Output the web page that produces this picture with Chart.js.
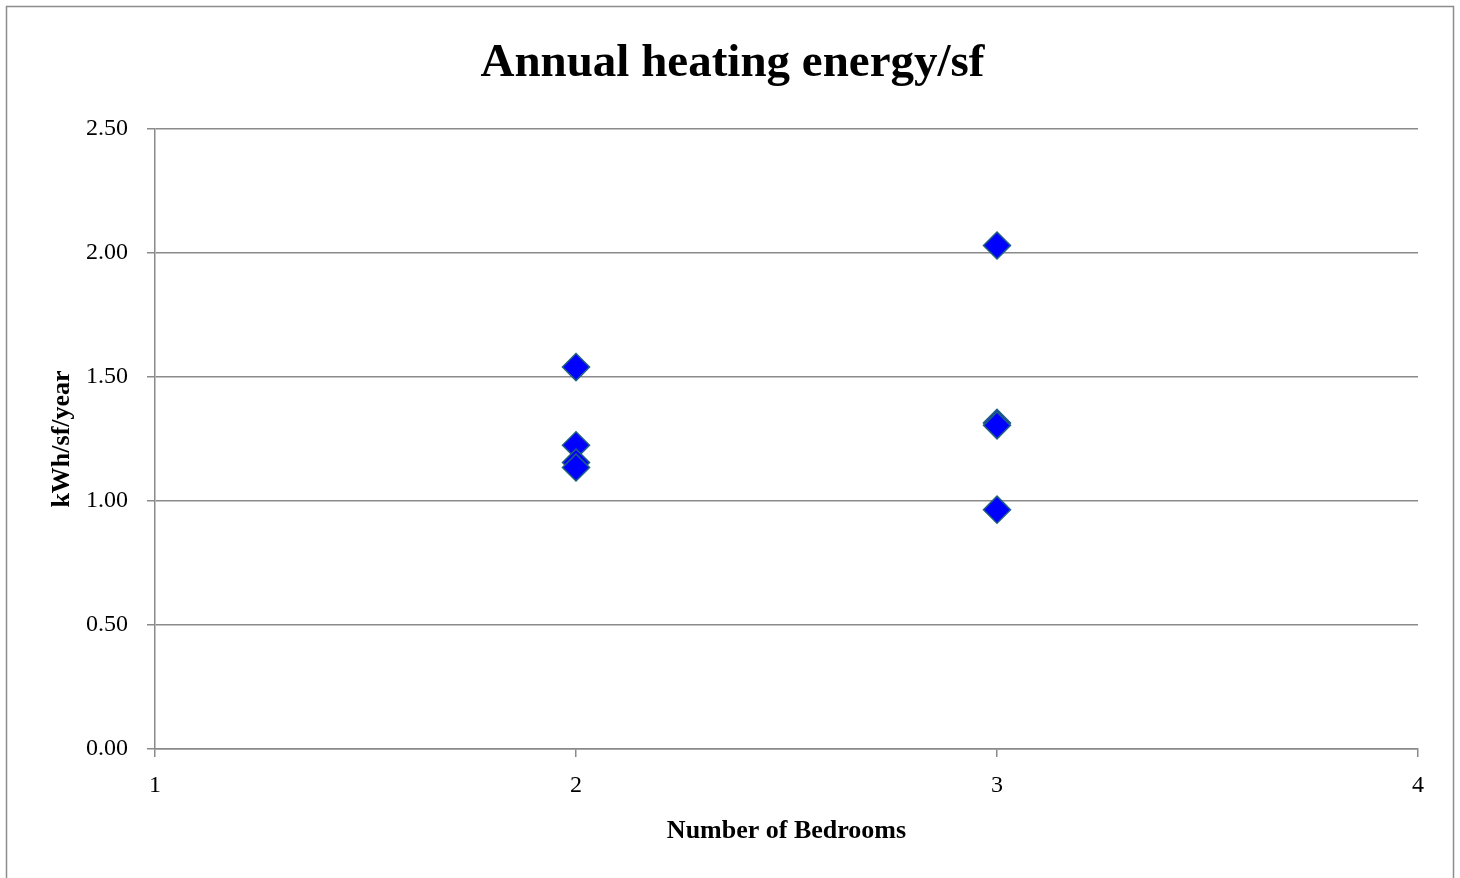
<!DOCTYPE html>
<html>
<head>
<meta charset="utf-8">
<script src="https://cdn.jsdelivr.net/npm/chart.js@4/dist/chart.umd.min.js"></script>
<style>
  html, body { margin: 0; padding: 0; background: #fff; }
  #wrap { position: relative; width: 1460px; height: 878px; }
</style>
</head>
<body>
<div id="wrap"><canvas id="c" width="1460" height="878"></canvas></div>
<script>
// Data
const chartTitle = "Annual heating energy/sf";
const xAxisTitle = "Number of Bedrooms";
const yAxisTitle = "kWh/sf/year";
const bedrooms = [2, 2, 2, 2, 3, 3, 3, 3];
const heatingEnergy = [1.54, 1.225, 1.155, 1.135, 2.03, 1.315, 1.305, 0.965];
const xTicks = [1, 2, 3, 4];
const yTicks = [0, 0.5, 1.0, 1.5, 2.0, 2.5];

const points = bedrooms.map((x, i) => ({ x: x, y: heatingEnergy[i] }));

const frame = {
  id: 'frame',
  afterDraw(chart) {
    const ctx = chart.ctx;
    ctx.save();
    ctx.strokeStyle = '#8c8c8c';
    ctx.lineWidth = 1.5;
    ctx.strokeRect(6.5, 6.5, 1447, 900);
    ctx.restore();
  }
};

Chart.defaults.font.family = "'Liberation Serif', 'Times New Roman', serif";
Chart.defaults.color = '#000';

new Chart(document.getElementById('c'), {
  type: 'scatter',
  data: {
    datasets: [{
      label: 'Heating energy',
      data: points,
      pointStyle: 'rectRot',
      pointRadius: 13.5,
      pointHoverRadius: 13.5,
      backgroundColor: '#0000ff',
      borderColor: '#1f5f80',
      borderWidth: 1.5
    }]
  },
  options: {
    responsive: false,
    animation: false,
    events: [],
    layout: { padding: { left: 47, right: 42, top: 0, bottom: 0 } },
    plugins: {
      legend: { display: false },
      tooltip: { enabled: false },
      title: {
        display: true,
        text: chartTitle,
        color: '#000',
        font: { size: 47, weight: 'bold', family: "'Liberation Serif', serif" },
        padding: { top: 36, bottom: 36.6 }
      }
    },
    scales: {
      x: {
        type: 'linear',
        min: 1, max: 4,
        afterFit: s => { s.height = 129; },
        afterBuildTicks: s => { s.ticks = xTicks.map(v => ({ value: v })); },
        ticks: { font: { size: 24 }, padding: 14, color: '#000' },
        grid: { drawOnChartArea: false, drawTicks: true, tickLength: 8, color: '#8a8a8a', lineWidth: 1.5 },
        border: { display: true, color: '#8a8a8a', width: 1.5 },
        title: {
          display: true, text: xAxisTitle, color: '#000',
          font: { size: 26, weight: 'bold' },
          padding: { top: 0, bottom: 31.4 }
        }
      },
      y: {
        type: 'linear',
        min: 0, max: 2.5,
        afterFit: s => { s.width = 108; },
        afterBuildTicks: s => { s.ticks = yTicks.map(v => ({ value: v })); },
        ticks: { font: { size: 24 }, padding: 19, color: '#000', callback: v => Number(v).toFixed(2) },
        grid: { drawOnChartArea: true, drawTicks: true, tickLength: 8, color: '#8a8a8a', lineWidth: 1.5 },
        border: { display: true, color: '#8a8a8a', width: 1.5 },
        title: {
          display: true, text: yAxisTitle, color: '#000',
          font: { size: 26, weight: 'bold' },
          padding: { top: 0, bottom: 0 }
        }
      }
    }
  },
  plugins: [frame]
});
</script>
</body>
</html>
